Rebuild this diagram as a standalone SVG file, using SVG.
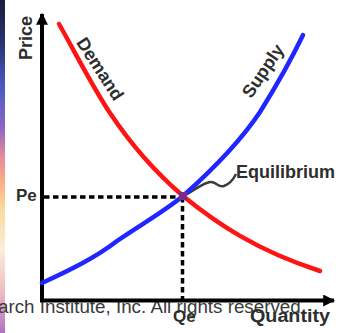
<svg xmlns="http://www.w3.org/2000/svg" width="339" height="333" viewBox="0 0 339 333">
<defs>
<linearGradient id="strip" x1="0" y1="0" x2="0" y2="1">
<stop offset="0" stop-color="#1c1c3c"/>
<stop offset="0.12" stop-color="#2a2f6e"/>
<stop offset="0.25" stop-color="#4658c0"/>
<stop offset="0.38" stop-color="#8a66c8"/>
<stop offset="0.47" stop-color="#e88a9a"/>
<stop offset="0.55" stop-color="#f8b088"/>
<stop offset="0.62" stop-color="#fad898"/>
<stop offset="0.75" stop-color="#f8f0d8"/>
<stop offset="0.88" stop-color="#f0b8c0"/>
<stop offset="1" stop-color="#b070c0"/>
</linearGradient>
<marker id="arr" viewBox="0 0 10 10" refX="9" refY="5" markerWidth="3" markerHeight="3" orient="auto" markerUnits="strokeWidth">
<path d="M0,0 L10,5 L0,10 z" fill="#000"/>
</marker>
<style>
.lbl{font-family:"Liberation Sans",Arial,sans-serif;font-weight:bold;fill:#2e2e2e}
.copy{font-family:"Liberation Sans",Arial,sans-serif;fill:#3a3a3a;font-size:18.8px}
.dash{stroke:#000;stroke-width:3.5;stroke-dasharray:5.5 3.5;fill:none}
.axis{stroke:#000;stroke-width:4;fill:none}
</style>
</defs>
<rect x="0" y="0" width="339" height="333" fill="#fff"/>
<rect x="0" y="0" width="5" height="333" fill="url(#strip)"/>
<text class="copy" x="-2" y="313">arch Institute, Inc. All rights reserved.</text>
<g id="connectors">
<path class="dash" d="M44,197 H182"/>
<path class="dash" d="M182.5,197 V300"/>
<path d="M185,195 C195,190 203,183 210,182 C216,181 218,188 224,186 C230,184 233,180 236,174" stroke="#3c3c3c" stroke-width="2.5" fill="none"/>
</g>
<g id="axes">
<path class="axis" d="M42,302 V14" marker-end="url(#arr)"/>
<path class="axis" d="M40,300.5 H334" marker-end="url(#arr)"/>
</g>
<g id="demand">
<path d="M59,24 C75,52 92,86 110,113 C130,143 155,172 183,196 C215,222 255,250 320,271" stroke="#ff1414" stroke-width="4.5" fill="none" stroke-linecap="round"/>
</g>
<g id="supply">
<path d="M42,283 C70,270 95,258 117,241 C140,225 162,213 183,196 C210,172 240,142 260,112 C275,88 290,62 303,35" stroke="#2026ff" stroke-width="4.5" fill="none" stroke-linecap="round"/>
</g>
<g id="equilibrium-point">
<rect x="179" y="192" width="8" height="8" fill="#7a2a8c"/>
</g>
<g id="labels">
<text class="lbl" font-size="18" transform="translate(32,60) rotate(-90)">Price</text>
<text class="lbl" font-size="18" text-anchor="middle" transform="translate(100,69) rotate(57)" y="6">Demand</text>
<text class="lbl" font-size="18" text-anchor="middle" transform="translate(263,71) rotate(-56)" y="6">Supply</text>
<text class="lbl" font-size="18" x="236" y="178">Equilibrium</text>
<text class="lbl" font-size="17" x="16" y="201">Pe</text>
<text class="lbl" font-size="17" x="173" y="322">Qe</text>
<text class="lbl" font-size="18" x="250" y="322" textLength="80" lengthAdjust="spacingAndGlyphs">Quantity</text>
</g>
</svg>
